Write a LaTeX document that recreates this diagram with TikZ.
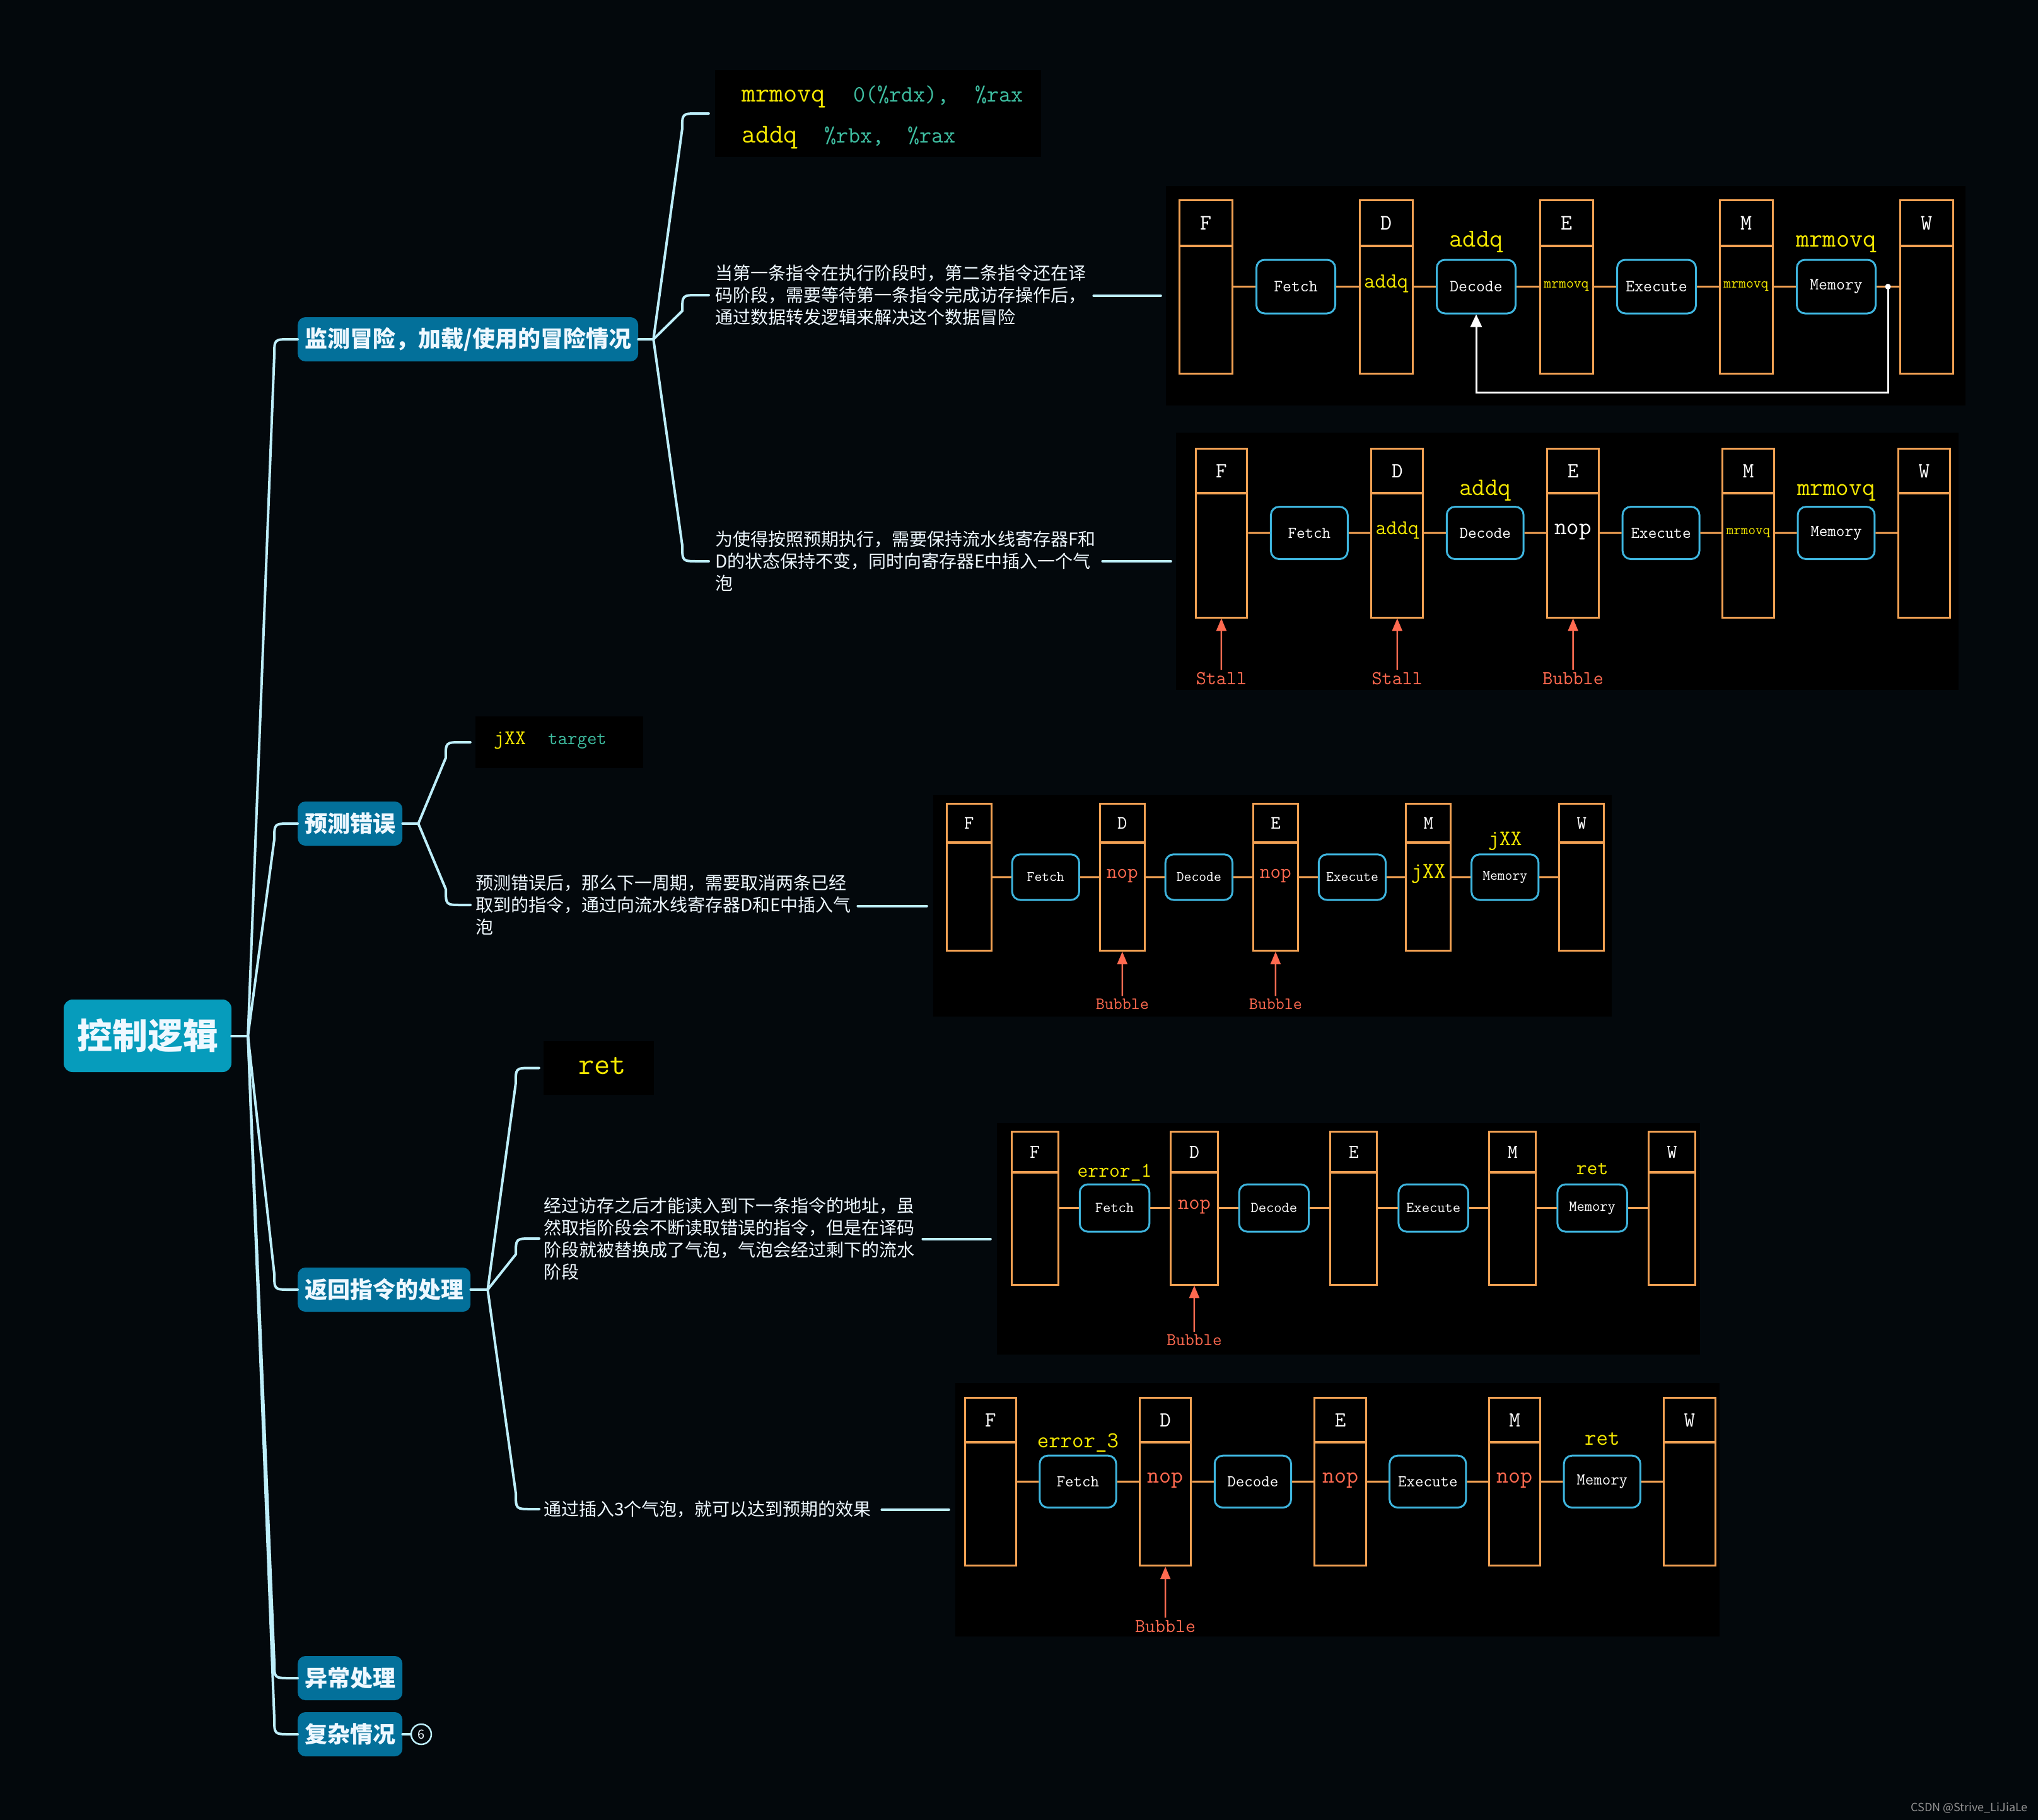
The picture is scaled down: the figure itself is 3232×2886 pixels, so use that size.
\documentclass[tikz,border=0pt]{standalone}
\usepackage{fontspec}
\newfontfamily\cjk{Noto Sans CJK SC}
\usetikzlibrary{arrows.meta,calc}
\definecolor{bgc}{HTML}{03080C}
\definecolor{rootc}{HTML}{069CBC}
\definecolor{subc}{HTML}{03709A}
\definecolor{connc}{HTML}{BDEEFA}
\definecolor{txtw}{HTML}{EEF8FF}
\definecolor{orng}{HTML}{F2A153}
\definecolor{bluec}{HTML}{3EB5DE}
\definecolor{redc}{HTML}{FF6A50}
\definecolor{ylw}{HTML}{F5E800}
\definecolor{codec}{HTML}{3FBFA2}
\tikzset{
  conn/.style={draw=connc,line width=4pt,line cap=round},
  rootbox/.style={fill=rootc,rounded corners=14pt,text=txtw,font=\cjk\bfseries\fontsize{56}{60}\selectfont,minimum width=266pt,minimum height=115pt,inner sep=0pt},
  subbox/.style={fill=subc,rounded corners=12pt,text=txtw,font=\cjk\bfseries\fontsize{36}{40}\selectfont,minimum height=70pt,inner xsep=11pt,inner ysep=0pt,anchor=west},
  bodytxt/.style={text=txtw,font=\cjk\fontsize{28}{35}\selectfont,align=left,anchor=west,inner sep=0pt},
  panelbox/.style={fill=black,draw=none,inner sep=0pt},
  regbox/.style={draw=orng,line width=3pt,minimum width=84pt,minimum height=275pt,inner sep=0pt,fill=black},
  divl/.style={draw=orng,line width=4pt},
  oline/.style={draw=orng,line width=3pt},
  sbox/.style={draw=bluec,line width=3pt,rounded corners=13pt,minimum width=125pt,minimum height=85pt,fill=black,text=white,font=\ttfamily\fontsize{27}{30}\selectfont,inner sep=0pt},
  stletter/.style={text=white,font=\ttfamily\fontsize{35}{38}\selectfont,inner sep=0pt},
  toplbl/.style={text=ylw,font=\ttfamily\fontsize{41}{44}\selectfont,inner sep=0pt,anchor=base},
  inlY/.style={text=ylw,font=\ttfamily\fontsize{34}{36}\selectfont,inner sep=0pt,anchor=mid},
  inlS/.style={text=ylw,font=\ttfamily\fontsize{23}{25}\selectfont,inner sep=0pt,anchor=mid},
  inlR/.style={text=redc,font=\ttfamily\fontsize{38}{40}\selectfont,inner sep=0pt,anchor=mid},
  inlW/.style={text=white,font=\ttfamily\fontsize{39}{40}\selectfont,inner sep=0pt,anchor=mid},
  rlbl/.style={text=redc,font=\ttfamily\fontsize{32}{34}\selectfont,inner sep=0pt,anchor=north},
  rarr/.style={draw=redc,line width=2.5pt,shorten <=4pt,-{Triangle[length=20pt,width=16pt]}},
  fwd/.style={draw=white,line width=3pt,-{Triangle[length=20pt,width=18pt]}},
  dotn/.style={circle,fill=white,minimum size=9pt,inner sep=0pt},
  codebox/.style={fill=black,draw=none,inner sep=0pt},
  codeY/.style={text=ylw,inner sep=0pt,anchor=base west},
  codeT/.style={text=codec,inner sep=0pt,anchor=base west},
}
\newcommand\pipeline[1]{%
  \foreach \n/\x in {F/0,D/286,E/572,M/857,W/1143}{
    \node[regbox] (#1\n) at (\x+42,137.5) {};
    \draw[divl] (\x,73) -- (\x+84,73);
    \node[stletter] (#1L\n) at (\x+42,37) {\n};
  }
  \node[sbox] (#1fe) at (185,137.5) {Fetch};
  \node[sbox] (#1de) at (471,137.5) {Decode};
  \node[sbox] (#1ex) at (757,137.5) {Execute};
  \node[sbox] (#1me) at (1042,137.5) {Memory};
  \draw[oline] (#1F) -- (#1fe);
  \draw[oline] (#1fe) -- (#1D);
  \draw[oline] (#1D) -- (#1de);
  \draw[oline] (#1de) -- (#1E);
  \draw[oline] (#1E) -- (#1ex);
  \draw[oline] (#1ex) -- (#1M);
  \draw[oline] (#1M) -- (#1me);
  \draw[oline] (#1me) -- (#1W);
}
\newcommand\mmlink[5][]{\draw[conn,#1] (#2) -- ($(#3.west)+(#4,#5)$) .. controls ($(#3.west)+(#4,0)$) .. ($(#3.west)+(#4+25,0)$) -- (#3.west);}
\begin{document}
\begin{tikzpicture}[x=1pt,y=-1pt]
\useasboundingbox (0,0) rectangle (3232,2886);
\fill[bgc] (0,0) rectangle (3232,2886);

% ---------- root and main topics ----------
\node[rootbox] (root) at (234,1642.5) {控制逻辑};
\node[subbox] (s1) at (472,538) {监测冒险，加载/使用的冒险情况};
\node[subbox] (s2) at (472,1306) {预测错误};
\node[subbox] (s3) at (472,2045) {返回指令的处理};
\node[subbox] (s4) at (472,2661) {异常处理};
\node[subbox] (s5) at (472,2750) {复杂情况};
\node[circle,draw=connc,line width=2.5pt,minimum size=32pt,inner sep=0pt,text=txtw,font=\cjk\fontsize{20}{20}\selectfont] (c6) at (668,2750) {6};

\coordinate (rj) at ($(root.east)+(26,0)$);
\draw[conn] (root.east) -- (rj);
\mmlink{rj}{s1}{-37}{25}
\mmlink{rj}{s2}{-37}{25}
\mmlink{rj}{s3}{-37}{-25}
\mmlink{rj}{s4}{-37}{-25}
\mmlink{rj}{s5}{-37}{-25}
\draw[conn] (s5) -- (c6);

% ---------- panels ----------
\node[panelbox,minimum width=1268pt,minimum height=348pt] (p1) at (2483,469) {};
\node[panelbox,minimum width=1241pt,minimum height=408pt] (p2) at (2485.5,890) {};
\node[panelbox,minimum width=1076pt,minimum height=351pt] (p3) at (2018,1436.5) {};
\node[panelbox,minimum width=1115pt,minimum height=367pt] (p4) at (2138.5,1964.5) {};
\node[panelbox,minimum width=1212pt,minimum height=402pt] (p5) at (2121,2394) {};

% ---------- code boxes ----------
\node[codebox,minimum width=517pt,minimum height=138pt] (cb1) at (1392.5,180) {};
\node[codeY,font=\ttfamily\fontsize{43}{45}\selectfont] (cb1a) at (1176,161) {mrmovq};
\node[codeT,font=\ttfamily\fontsize{37}{38}\selectfont] (cb1b) at (1353,161) {0(\%rdx),};
\node[codeT,font=\ttfamily\fontsize{37}{38}\selectfont] (cb1c) at (1546,161) {\%rax};
\node[codeY,font=\ttfamily\fontsize{43}{45}\selectfont] (cb1d) at (1176,226) {addq};
\node[codeT,font=\ttfamily\fontsize{37}{38}\selectfont] (cb1e) at (1307,226) {\%rbx,};
\node[codeT,font=\ttfamily\fontsize{37}{38}\selectfont] (cb1f) at (1439,226) {\%rax};

\node[codebox,minimum width=266pt,minimum height=82pt] (cb2) at (887,1177) {};
\node[codeY,font=\ttfamily\fontsize{33}{35}\selectfont] (cb2a) at (783,1180) {jXX};
\node[codeT,font=\ttfamily\fontsize{30}{32}\selectfont] (cb2b) at (869,1180) {target};

\node[codebox,minimum width=175pt,minimum height=85pt] (cb3) at (949.5,1693.5) {};
\node[codeY,font=\ttfamily\fontsize{49}{51}\selectfont] (cb3a) at (917,1703) {ret};

% ---------- body texts ----------
\node[bodytxt,text width=590pt] (t1) at (1134,468) {当第一条指令在执行阶段时，第二条指令还在译\\码阶段，需要等待第一条指令完成访存操作后，\\通过数据转发逻辑来解决这个数据冒险};
\node[bodytxt,text width=604pt] (t2) at (1134,890) {为使得按照预期执行，需要保持流水线寄存器F和\\D的状态保持不变，同时向寄存器E中插入一个气\\泡};
\node[bodytxt,text width=596pt] (t3) at (754,1435) {预测错误后，那么下一周期，需要取消两条已经\\取到的指令，通过向流水线寄存器D和E中插入气\\泡};
\node[bodytxt,text width=591pt] (t4) at (862,1964) {经过访存之后才能读入到下一条指令的地址，虽\\然取指阶段会不断读取错误的指令，但是在译码\\阶段就被替换成了气泡，气泡会经过剩下的流水\\阶段};
\node[bodytxt,text width=526pt] (t5) at (862,2393) {通过插入3个气泡，就可以达到预期的效果};

% ---------- second-level connectors ----------
\coordinate (j1) at ($(s1.east)+(24,0)$);
\draw[conn] (s1.east) -- (j1);
\mmlink[shorten >=10pt]{j1}{cb1}{-52}{25}
\mmlink[shorten >=10pt]{j1}{t1}{-52}{25}
\mmlink[shorten >=10pt]{j1}{t2}{-52}{-25}

\coordinate (j2) at ($(s2.east)+(25,0)$);
\draw[conn] (s2.east) -- (j2);
\mmlink[shorten >=8pt]{j2}{cb2}{-47}{25}
\mmlink[shorten >=8pt]{j2}{t3}{-47}{-25}

\coordinate (j3) at ($(s3.east)+(27,0)$);
\draw[conn] (s3.east) -- (j3);
\mmlink[shorten >=7pt]{j3}{cb3}{-44}{25}
\mmlink[shorten >=7pt]{j3}{t4}{-44}{25}
\mmlink[shorten >=7pt]{j3}{t5}{-44}{-25}

% ---------- text to picture connectors ----------
\coordinate (t1r) at (p1.west -| t1.east);
\coordinate (t2r) at (p2.west -| t2.east);
\coordinate (t3r) at (p3.west -| t3.east);
\coordinate (t4r) at (p4.west -| t4.east);
\coordinate (t5r) at (p5.west -| t5.east);
\draw[conn] ([xshift=10pt]t1r) -- ([xshift=-8pt]p1.west);
\draw[conn] ([xshift=10pt]t2r) -- ([xshift=-8pt]p2.west);
\draw[conn] ([xshift=10pt]t3r) -- ([xshift=-10pt]p3.west);
\draw[conn] ([xshift=10pt]t4r) -- ([xshift=-10pt]p4.west);
\draw[conn] ([xshift=10pt]t5r) -- ([xshift=-10pt]p5.west);

% ---------- diagram 1 ----------
\begin{scope}[shift={(1870,317)},transform shape]
\pipeline{a}
\node[inlY] (aDt) at (aD) {addq};
\node[inlS] (aEt) at (aE) {mrmovq};
\node[inlS] (aMt) at (aM) {mrmovq};
\node[toplbl] (aDeT) at (471,74) {addq};
\node[toplbl] (aMeT) at (1042,74) {mrmovq};
\node[dotn] (adot) at (1124,137.5) {};
\draw[fwd] (adot.center) -- (1124,305) -| (ade.south);
\end{scope}

% ---------- diagram 2 ----------
\begin{scope}[shift={(1896,711)},scale=0.975,transform shape]
\pipeline{b}
\node[inlY] (bDt) at (bD) {addq};
\node[inlW] (bEt) at (bE) {nop};
\node[inlS] (bMt) at (bM) {mrmovq};
\node[toplbl] (bDeT) at (471,76) {addq};
\node[toplbl] (bMeT) at (1042,76) {mrmovq};
\node[rlbl] (bSF) at (42,364) {Stall};
\node[rlbl] (bSD) at (328,364) {Stall};
\node[rlbl] (bSE) at (614,364) {Bubble};
\draw[rarr] (bSF) -- (bF);
\draw[rarr] (bSD) -- (bD);
\draw[rarr] (bSE) -- (bE);
\end{scope}

% ---------- diagram 3 ----------
\begin{scope}[shift={(1501,1274)},scale=0.85,transform shape]
\pipeline{c}
\node[inlR] (cDt) at (cD) {nop};
\node[inlR] (cEt) at (cE) {nop};
\node[inlY,font=\ttfamily\fontsize{42}{44}\selectfont] (cMt) at (cM) {jXX};
\node[toplbl] (cMeT) at (1042,78) {jXX};
\node[rlbl] (cSD) at (328,364) {Bubble};
\node[rlbl] (cSE) at (614,364) {Bubble};
\draw[rarr] (cSD) -- (cD);
\draw[rarr] (cSE) -- (cE);
\end{scope}

% ---------- diagram 4 ----------
\begin{scope}[shift={(1604,1794)},scale=0.884,transform shape]
\pipeline{d}
\node[inlR] (dDt) at (dD) {nop};
\node[toplbl,font=\ttfamily\fontsize{37}{40}\selectfont] (dFeT) at (185,82) {error\_1};
\node[toplbl,font=\ttfamily\fontsize{37}{40}\selectfont] (dMeT) at (1042,78) {ret};
\node[rlbl] (dSD) at (328,364) {Bubble};
\draw[rarr] (dSD) -- (dD);
\end{scope}

% ---------- diagram 5 ----------
\begin{scope}[shift={(1530,2216)},scale=0.97,transform shape]
\pipeline{e}
\node[inlR] (eDt) at (eD) {nop};
\node[inlR] (eEt) at (eE) {nop};
\node[inlR] (eMt) at (eM) {nop};
\node[toplbl,font=\ttfamily\fontsize{37}{40}\selectfont] (eFeT) at (185,82) {error\_3};
\node[toplbl,font=\ttfamily\fontsize{37}{40}\selectfont] (eMeT) at (1042,78) {ret};
\node[rlbl] (eSD) at (328,364) {Bubble};
\draw[rarr] (eSD) -- (eD);
\end{scope}

\node[anchor=base east,text=gray!85,font=\cjk\fontsize{18}{18}\selectfont,inner sep=0pt] (wm) at (3216,2872) {CSDN @Strive\_LiJiaLe};
\end{tikzpicture}
\end{document}
